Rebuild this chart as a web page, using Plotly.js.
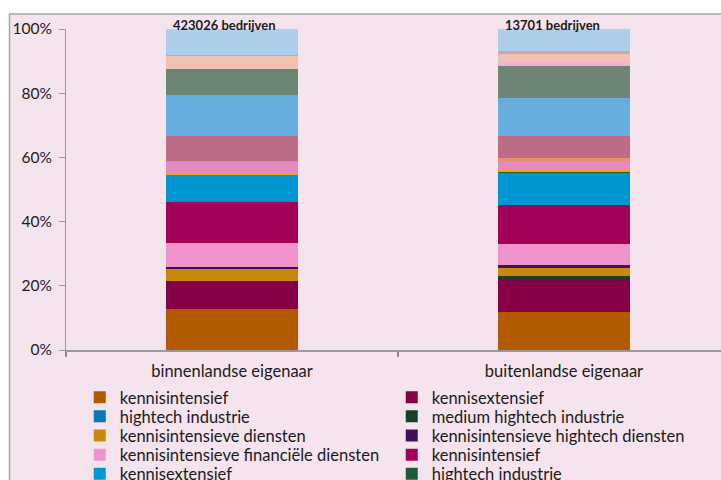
<!DOCTYPE html>
<html>
<head>
<meta charset="utf-8">
<script src="https://cdn.plot.ly/plotly-3.0.1.min.js"></script>
<style>
html,body{margin:0;padding:0;background:#ffffff;overflow:hidden;}
#chart{width:721px;height:480px;}
</style>
</head>
<body>
<div id="chart"></div>
<script>
// Categories (x axis)
const categories = ["binnenlandse eigenaar", "buitenlandse eigenaar"];
// Annotation labels above bars
const totals = ["423026 bedrijven", "13701 bedrijven"];
// Series names in stack order (bottom to top)
const seriesNames = [
  "kennisintensief", "kennisextensief", "hightech industrie", "medium hightech industrie",
  "kennisintensieve diensten", "kennisintensieve hightech diensten", "kennisintensieve financiële diensten",
  "kennisintensief", "kennisextensief", "hightech industrie", "medium hightech industrie",
  "kennisintensieve diensten", "kennisintensieve hightech diensten", "kennisintensieve financiële diensten",
  "kennisintensief", "kennisextensief", "hightech industrie", "medium hightech industrie",
  "kennisintensieve diensten", "kennisintensieve hightech diensten", "kennisintensieve financiële diensten"
];
// Shares (%) per series for each category
const binnenlands = [13.0, 8.3, 0.0, 0.3, 3.9, 0.5, 7.7,
                     12.9, 8.5, 0.0, 0.1, 3.8, 0.5, 7.7,
                     12.9, 8.1, 0.0, 0.1, 4.2, 0.3, 8.1];
const buitenlands = [11.9, 9.9, 0.0, 1.1, 2.6, 0.8, 6.7,
                     12.1, 10.0, 0.3, 0.7, 2.8, 0.9, 6.6,
                     12.1, 9.7, 0.0, 1.2, 2.6, 1.1, 6.7];
// Colours per series
const colors = ["#B35900", "#850045", "#0A78B4", "#173F2A", "#C8890A", "#3F1257", "#F093CC",
                "#A30057", "#0096D1", "#1E5A3C", "#F0A800", "#E48BC0", "#E8906A", "#BC6A85",
                "#66AEE0", "#6E8474", "#9DB9A8", "#F4B0D6", "#F0C0B0", "#D3A0B6", "#AECFEB"];

const FONT = "Lato, 'Open Sans', sans-serif";
const PLOT_BOTTOM = 350, PLOT_H = 321.5;
const ROW0 = 397.5, ROW_STEP = 19.2;
const VISIBLE_ROWS = 5; // the legend runs past the bottom edge of the picture

function legendId(row) { return row === 0 ? "legend" : "legend" + (row + 1); }

const traces = seriesNames.map((name, i) => ({
  type: "bar",
  name: name,
  x: categories,
  y: [binnenlands[i], buitenlands[i]],
  marker: {color: colors[i], line: {width: 0}},
  legend: legendId(Math.min(Math.floor(i / 2), VISIBLE_ROWS - 1)),
  showlegend: Math.floor(i / 2) < VISIBLE_ROWS,
  hoverinfo: "name+y"
}));

const annotations = totals.map((t, i) => ({
  x: i - 0.183, y: 100, xref: "x", yref: "y",
  xanchor: "left", yanchor: "middle", yshift: 4,
  text: "<b>" + t + "</b>", showarrow: false,
  font: {family: FONT, size: 13, color: "#1a1a1a"}
}));

const layout = {
  width: 721, height: 480,
  margin: {l: 66, r: 0, t: 28.5, b: 130, pad: 0, autoexpand: false},
  paper_bgcolor: "#ffffff",
  plot_bgcolor: "rgba(0,0,0,0)",
  barmode: "stack",
  barnorm: "percent",
  bargap: 0.6,
  showlegend: true,
  font: {family: FONT, size: 16, color: "#1a1a1a"},
  xaxis: {
    type: "category",
    range: [-0.5, 1.473],
    showline: true, linecolor: "#9a9a9a", linewidth: 1.5,
    ticks: "outside", tickson: "boundaries", ticklen: 5, tickcolor: "#8a8a8a", tickwidth: 1.5,
    ticklabelstandoff: 6,
    showgrid: false, zeroline: false,
    tickfont: {family: FONT, size: 16.5, color: "#1a1a1a"}
  },
  yaxis: {
    range: [0, 100],
    tickvals: [0, 20, 40, 60, 80, 100],
    ticktext: ["0%", "20%", "40%", "60%", "80%", "100%"],
    showline: true, linecolor: "#9a9a9a", linewidth: 1,
    ticks: "outside", ticklen: 6, tickcolor: "#9a9a9a",
    ticklabelstandoff: 4,
    showgrid: false, zeroline: false,
    tickfont: {family: FONT, size: 15.5, color: "#1a1a1a"}
  },
  annotations: annotations,
  shapes: [{
    type: "rect", xref: "paper", yref: "paper", layer: "below",
    x0: (9.5 - 66) / 655, x1: 1.2,
    y0: -0.6, y1: (350 - 13.5) / 321.5,
    fillcolor: "#F5E4EE",
    line: {color: "#ACA3A9", width: 1.5}
  }]
};

// one legend per row of two entries
for (let r = 0; r < VISIBLE_ROWS; r++) {
  layout[legendId(r)] = {
    orientation: "h",
    x: 0.021, xanchor: "left",
    y: (PLOT_BOTTOM - (ROW0 + r * ROW_STEP)) / PLOT_H, yanchor: "middle",
    entrywidth: 267, entrywidthmode: "pixels",
    traceorder: "normal",
    bgcolor: "rgba(0,0,0,0)",
    font: {family: FONT, size: 16.5, color: "#1a1a1a"}
  };
}

Plotly.newPlot("chart", traces, layout, {displayModeBar: false, staticPlot: true});
</script>
</body>
</html>
